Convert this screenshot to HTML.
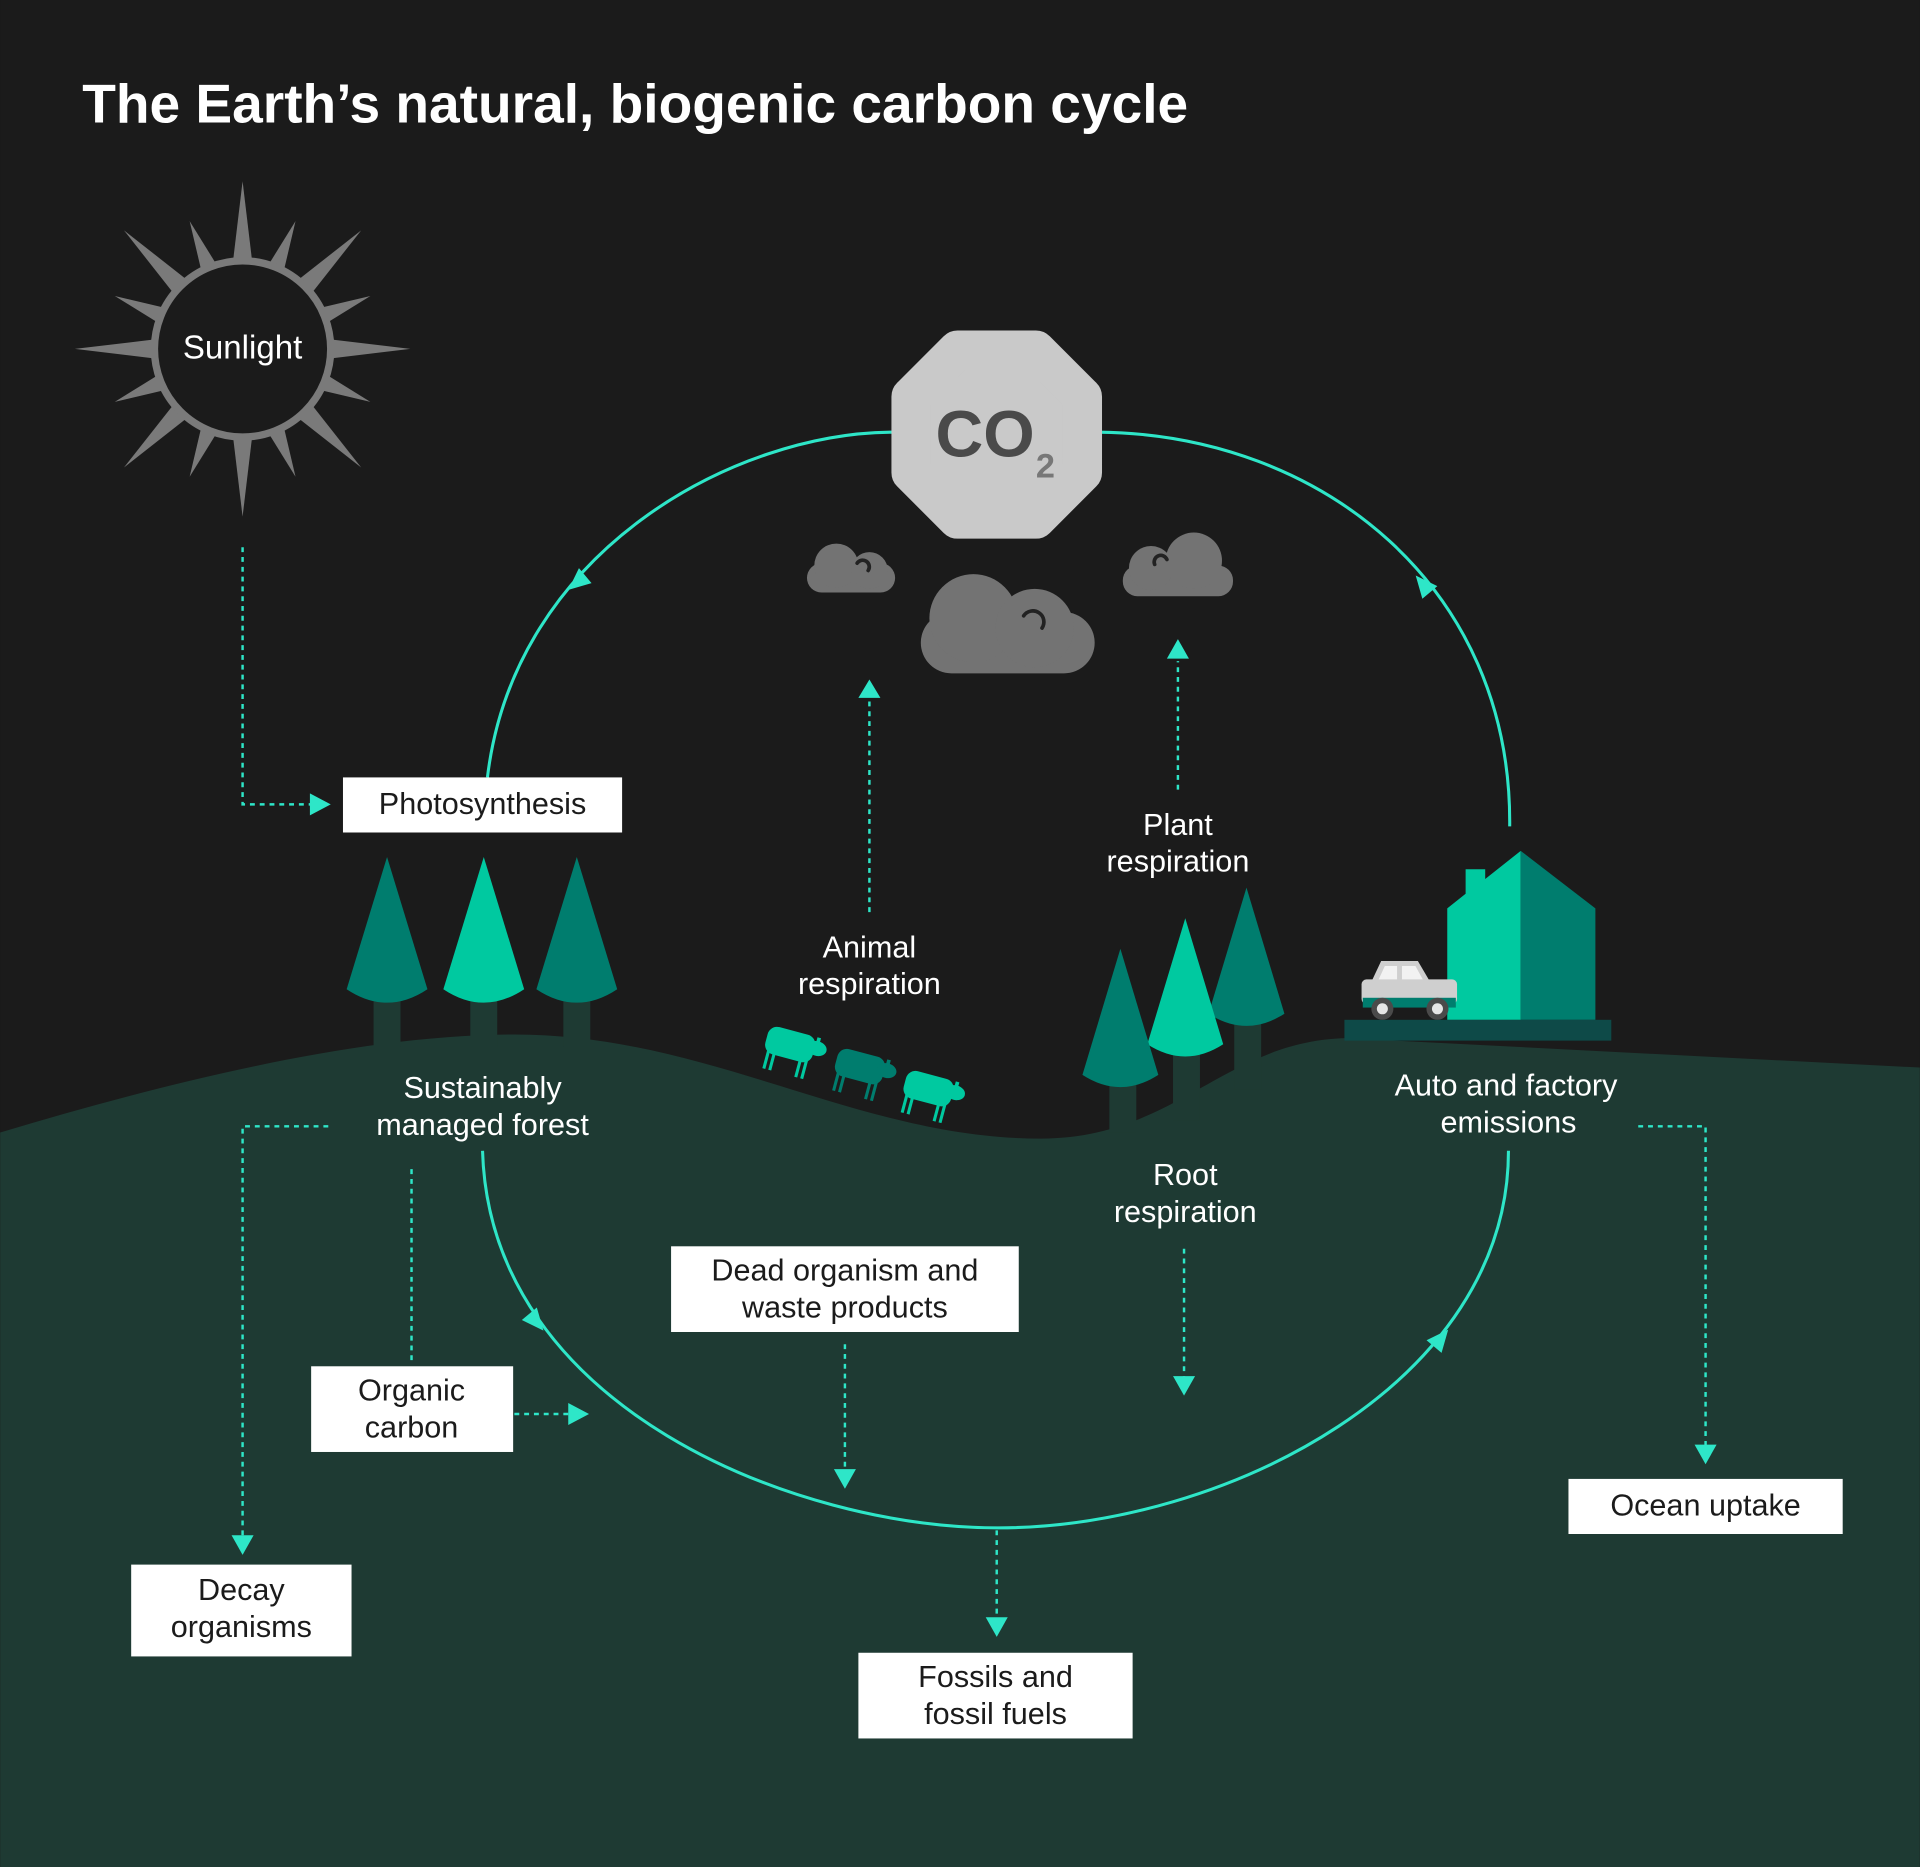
<!DOCTYPE html>
<html><head><meta charset="utf-8"><style>
html,body{margin:0;padding:0;background:#1b1b1b;}
svg{display:block}
text{font-family:"Liberation Sans",sans-serif;}
</style></head><body>
<svg width="1920" height="1867" viewBox="0 0 1568 1525" xmlns="http://www.w3.org/2000/svg">
<defs>
<g id="sheep">
<rect x="-25" y="-12" width="40" height="23" rx="8"/>
<ellipse cx="17" cy="-3" rx="8" ry="6"/>
<rect x="15" y="-12" width="3" height="6"/>
<rect x="-22" y="8" width="2.5" height="16"/><rect x="-17" y="8" width="2.5" height="16"/>
<rect x="5" y="8" width="2.5" height="16"/><rect x="10" y="8" width="2.5" height="16"/>
</g>
<g id="L"><polygon points="-8,-70 0,-137 8,-70"/></g>
<g id="S"><polygon points="-7,-70 0,-113 7,-70" transform="rotate(22.5)"/></g>
</defs>
<rect width="1568" height="1525" fill="#1b1b1b"/>
<text x="67" y="100" font-size="45" font-weight="bold" fill="#fff">The Earth’s natural, biogenic carbon cycle</text>

<!-- ground -->
<path d="M0,925 C150,880 300,845 420,845 C580,845 700,930 850,930 C960,930 1000,850 1100,848 L1568,872 L1568,1525 L0,1525Z" fill="#1e3a33"/>

<!-- sun -->
<g transform="translate(198,285)" fill="#7a7a7a">
<use href="#L"/><use href="#L" transform="rotate(45)"/><use href="#L" transform="rotate(90)"/><use href="#L" transform="rotate(135)"/>
<use href="#L" transform="rotate(180)"/><use href="#L" transform="rotate(225)"/><use href="#L" transform="rotate(270)"/><use href="#L" transform="rotate(315)"/>
<use href="#S"/><use href="#S" transform="rotate(45)"/><use href="#S" transform="rotate(90)"/><use href="#S" transform="rotate(135)"/>
<use href="#S" transform="rotate(180)"/><use href="#S" transform="rotate(225)"/><use href="#S" transform="rotate(270)"/><use href="#S" transform="rotate(315)"/>
<circle r="72" fill="#1b1b1b" stroke="#7a7a7a" stroke-width="6"/>
</g>
<text x="198" y="293" font-size="27" fill="#fff" text-anchor="middle">Sunlight</text>

<!-- cycle arcs -->
<g fill="none" stroke="#2ee6c8" stroke-width="2.5">
<path d="M398,635 C420,450 600,353 730,353"/>
<path d="M898,353 C1080,355 1235,480 1233,675"/>
<path d="M394,940 C400,1150 650,1248 815,1248 C1000,1248 1232,1130 1232,940"/>
</g>
<g fill="#2ee6c8">
<polygon points="0,-9 -8,9 8,9" transform="translate(471,476) rotate(-130)"/>
<polygon points="0,-9 -8,9 8,9" transform="translate(1162,477) rotate(-40)"/>
<polygon points="0,-9 -8,9 8,9" transform="translate(438,1080) rotate(140)"/>
<polygon points="0,-9 -8,9 8,9" transform="translate(1177,1093) rotate(40)"/>
</g>

<!-- CO2 -->
<path d="M782,286 L846,286 L884,324 L884,386 L846,424 L782,424 L744,386 L744,324 Z" fill="#c9c9c9" stroke="#c9c9c9" stroke-width="32" stroke-linejoin="round"/>
<text x="764" y="373" font-size="54" font-weight="bold" fill="#4a4a4a">CO</text>
<text x="846" y="390" font-size="28" font-weight="bold" fill="#777">2</text>

<!-- clouds -->
<g fill="#737373">
<rect x="752" y="500" width="142" height="50" rx="25"/>
<circle cx="795" cy="505" r="36"/><circle cx="845" cy="513" r="32"/>
<rect x="659" y="460" width="72" height="24" rx="12"/>
<circle cx="683" cy="462" r="18"/><circle cx="710" cy="466" r="15"/>
<rect x="917" y="462" width="90" height="25" rx="12"/>
<circle cx="940" cy="464" r="18"/><circle cx="975" cy="458" r="23"/>
</g>
<g fill="none" stroke="#222" stroke-width="3" stroke-linecap="round">
<path d="M836,503 A8,8 0 0 1 851,513"/>
<path d="M700,460 A5,5 0 0 1 709,466"/>
<path d="M943,461 A5,5 0 0 1 953,457"/>
</g>

<!-- dotted connectors -->
<g fill="none" stroke="#2ee6c8" stroke-width="2" stroke-dasharray="4 4">
<path d="M198,447 L198,657 L258,657"/>
<path d="M710,745 L710,572"/>
<path d="M962,645 L962,540"/>
<path d="M268,920 L198,920 L198,1255"/>
<path d="M336,955 L336,1115"/>
<path d="M420,1155 L466,1155"/>
<path d="M690,1098 L690,1200"/>
<path d="M967,1020 L967,1125"/>
<path d="M814,1250 L814,1322"/>
<path d="M1338,920 L1393,920 L1393,1182"/>
</g>
<g fill="#2ee6c8">
<polygon points="253,648 270,657 253,666"/>
<polygon points="701,570 710,555 719,570"/>
<polygon points="953,538 962,522 971,538"/>
<polygon points="189,1254 198,1270 207,1254"/>
<polygon points="464,1146 481,1155 464,1164"/>
<polygon points="681,1200 690,1216 699,1200"/>
<polygon points="958,1124 967,1140 976,1124"/>
<polygon points="805,1321 814,1337 823,1321"/>
<polygon points="1384,1180 1393,1196 1402,1180"/>
</g>

<!-- left trees -->
<g fill="#1e3a33">
<rect x="305" y="815" width="22" height="40"/><rect x="384" y="815" width="22" height="40"/><rect x="460" y="815" width="22" height="40"/>
</g>
<path d="M316,700 L349,808 Q316,830 283,808 Z" fill="#007d6e"/>
<path d="M395,700 L428,808 Q395,830 362,808 Z" fill="#00c9a0"/>
<path d="M471,700 L504,808 Q471,830 438,808 Z" fill="#007d6e"/>

<!-- right trees -->
<g fill="#1e3a33">
<rect x="906" y="880" width="22" height="45"/><rect x="958" y="855" width="22" height="60"/><rect x="1008" y="830" width="22" height="60"/>
</g>
<path d="M1018,725 L1049,828 Q1018,848 987,828 Z" fill="#007d6e"/>
<path d="M968,750 L999,853 Q968,873 937,853 Z" fill="#00c9a0"/>
<path d="M915,775 L946,878 Q915,898 884,878 Z" fill="#007d6e"/>

<!-- factory -->
<rect x="1098" y="833" width="218" height="17" fill="#0e4a48"/>
<polygon points="1182,833 1182,742 1197,730 1197,710 1213,710 1213,718 1242,695 1242,833" fill="#00c9a0"/>
<polygon points="1242,695 1303,742 1303,833 1242,833" fill="#007d6e"/>
<!-- car -->
<rect x="1112" y="800" width="78" height="20" rx="4" fill="#cfcfcf"/>
<rect x="1113" y="815" width="76" height="8" fill="#007d6e"/>
<path d="M1120,802 L1128,785 L1158,785 L1168,802 Z" fill="#cfcfcf"/>
<path d="M1126,800 L1131,789 L1141,789 L1141,800 Z M1145,789 L1156,789 L1162,800 L1145,800 Z" fill="#f2f2f2"/>
<circle cx="1129" cy="824" r="9" fill="#4a4a4a"/><circle cx="1129" cy="824" r="4.5" fill="#e5e5e5"/>
<circle cx="1174" cy="824" r="9" fill="#4a4a4a"/><circle cx="1174" cy="824" r="4.5" fill="#e5e5e5"/>

<!-- sheep -->
<use href="#sheep" fill="#00c9a0" transform="translate(650,855) rotate(15)"/>
<use href="#sheep" fill="#007d6e" transform="translate(707,873) rotate(15)"/>
<use href="#sheep" fill="#00c9a0" transform="translate(763,891) rotate(15)"/>

<!-- labels -->
<g font-size="25" fill="#fff" text-anchor="middle">
<text x="710" y="782">Animal</text><text x="710" y="812">respiration</text>
<text x="962" y="682">Plant</text><text x="962" y="712">respiration</text>
<text x="394" y="897">Sustainably</text><text x="394" y="927">managed forest</text>
<text x="1230" y="895">Auto and factory</text><text x="1232" y="925">emissions</text>
<text x="968" y="968">Root</text><text x="968" y="998">respiration</text>
</g>

<!-- boxes -->
<g fill="#fff">
<rect x="280" y="635" width="228" height="45"/>
<rect x="548" y="1018" width="284" height="70"/>
<rect x="254" y="1116" width="165" height="70"/>
<rect x="107" y="1278" width="180" height="75"/>
<rect x="701" y="1350" width="224" height="70"/>
<rect x="1281" y="1208" width="224" height="45"/>
</g>
<g font-size="25" fill="#1b1b1b" text-anchor="middle">
<text x="394" y="665">Photosynthesis</text>
<text x="690" y="1046">Dead organism and</text><text x="690" y="1076">waste products</text>
<text x="336" y="1144">Organic</text><text x="336" y="1174">carbon</text>
<text x="197" y="1307">Decay</text><text x="197" y="1337">organisms</text>
<text x="813" y="1378">Fossils and</text><text x="813" y="1408">fossil fuels</text>
<text x="1393" y="1238">Ocean uptake</text>
</g>
</svg>
</body></html>
